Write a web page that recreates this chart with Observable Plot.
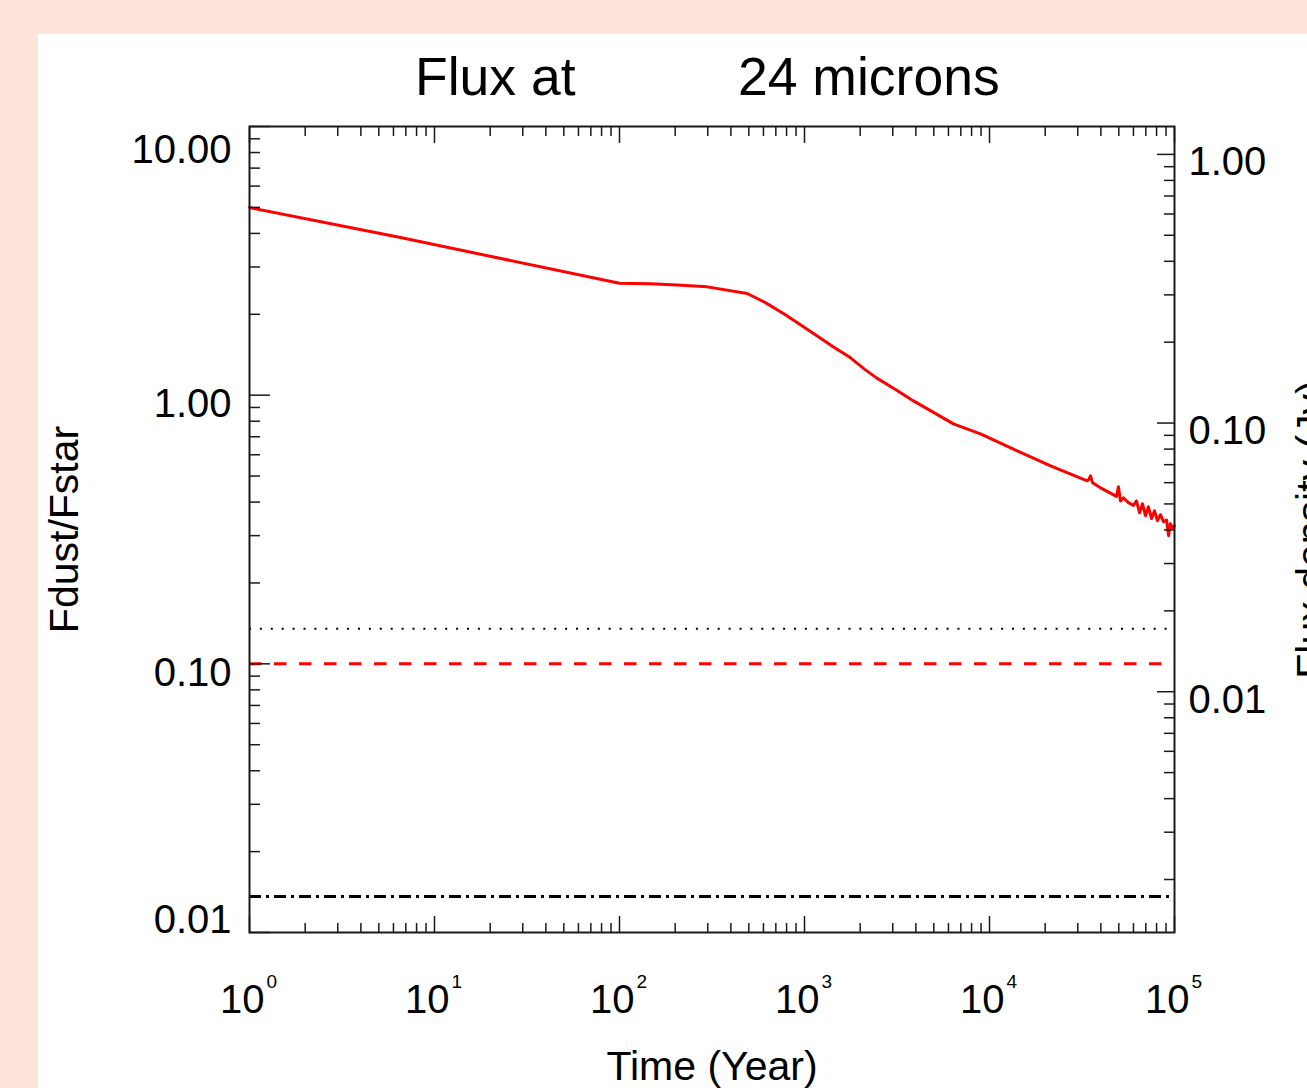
<!DOCTYPE html>
<html>
<head>
<meta charset="utf-8">
<script src="https://cdn.jsdelivr.net/npm/d3@7"></script>
<script src="https://cdn.jsdelivr.net/npm/@observablehq/plot@0.6"></script>
<style>
  html, body { margin: 0; padding: 0; background: #fde5da; width: 1307px; height: 1088px; overflow: hidden; }
  #panel { position: absolute; left: 38px; top: 34px; width: 1269px; height: 1054px; background: #fff; overflow: hidden;
           font-family: "Liberation Sans", Arial, sans-serif; color: #000; }
  #title { position: relative; height: 70px; }
  #title span { position: absolute; top: 16px; font-size: 53.5px; line-height: 53px; white-space: pre; }
  #chart svg { display: block; }
</style>
</head>
<body>
<div id="panel">
  <div id="title"><span style="left:377px">Flux at</span><span style="left:700px">24 microns</span></div>
  <div id="chart"></div>
</div>
<script>
// Dust-to-star flux ratio at 24 microns over time
const timeYears = [1, 6.55, 100, 147, 205, 298, 490, 615, 773, 951, 1172, 1435, 1766, 2110, 2449, 3104, 3884,
  6385, 8939, 14125, 21400,
  33750, 34280, 35160, 36060, 39810, 45080, 48560, 49770, 51050, 52970, 56360, 59980, 62320, 64710, 67180,
  69700, 72300, 75110, 77980, 80910, 83950, 87290, 90570, 92900, 95060, 97500, 100000];
const fluxRatio = [4.99, 3.86, 2.61, 2.60, 2.57, 2.53, 2.39, 2.21, 2.01, 1.83, 1.66, 1.51, 1.38, 1.25, 1.16, 1.05, 0.952,
  0.782, 0.718, 0.620, 0.546,
  0.480, 0.484, 0.501, 0.472, 0.452, 0.432, 0.420, 0.456, 0.404, 0.415, 0.398, 0.389, 0.404, 0.365, 0.394,
  0.356, 0.384, 0.347, 0.371, 0.341, 0.359, 0.338, 0.343, 0.300, 0.332, 0.321, 0.326];

// Reference levels (in Fdust/Fstar)
const dottedLevel = 0.135;
const dashedLevel = 0.1;
const dashDotLevel = 0.0136;

// Stellar flux used for the right-hand (Jy) axis
const starFluxJy = 0.127;

// Tick values
const timeExponents = [0, 1, 2, 3, 4, 5];
const timeMajor = timeExponents.map(e => 10 ** e);
const timeMinor = [1, 10, 100, 1000, 10000].flatMap(d => [2, 3, 4, 5, 6, 7, 8, 9].map(m => m * d));
const ratioMajor = [0.01, 0.1, 1, 10];
const ratioMinor = [0.01, 0.1, 1].flatMap(d => [2, 3, 4, 5, 6, 7, 8, 9].map(m => m * d));
const jyMajor = [0.01, 0.1, 1];
const jyMinor = [0.001, 0.01, 0.1].flatMap(d => [2, 3, 4, 5, 6, 7, 8, 9].map(m => m * d));

const curve = timeYears.map((t, i) => ({t, v: fluxRatio[i]}));
const ink = "#1a1a1a";
const tickStyle = {stroke: ink, strokeWidth: 1.5, tickFormat: () => "", label: null};
const toRatio = jy => jy / starFluxJy;
const labelStyle = {tickSize: 0, tickPadding: 18, fontSize: 40, label: null, tickFormat: d => d.toFixed(2)};

const chart = Plot.plot({
  width: 1269,
  height: 984,
  marginLeft: 211,
  marginRight: 133,
  marginTop: 22,
  marginBottom: 156,
  style: {fontFamily: "Liberation Sans, Arial, sans-serif", background: "white", color: "#000"},
  x: {type: "log", domain: [1, 1e5], axis: null},
  y: {type: "log", domain: [0.01, 10], axis: null},
  marks: [
    // reference levels
    Plot.ruleY([dottedLevel], {stroke: "#000", strokeWidth: 2, strokeDasharray: "2,8.9"}),
    Plot.ruleY([dashedLevel], {stroke: "#ff0000", strokeWidth: 3, strokeDasharray: "12.5,12.5"}),
    Plot.ruleY([dashDotLevel], {stroke: "#000", strokeWidth: 3, strokeDasharray: "12,5,3,5"}),
    // flux ratio curve
    Plot.line(curve, {x: "t", y: "v", stroke: "#ff0000", strokeWidth: 3}),
    // inward ticks on all four sides
    Plot.axisX({anchor: "bottom", ticks: timeMajor, tickSize: -16, ...tickStyle}),
    Plot.axisX({anchor: "bottom", ticks: timeMinor, tickSize: -9, ...tickStyle}),
    Plot.axisX({anchor: "top", ticks: timeMajor, tickSize: -16, ...tickStyle}),
    Plot.axisX({anchor: "top", ticks: timeMinor, tickSize: -9, ...tickStyle}),
    Plot.axisY({anchor: "left", ticks: ratioMajor, tickSize: -21, ...tickStyle}),
    Plot.axisY({anchor: "left", ticks: ratioMinor, tickSize: -11, ...tickStyle}),
    Plot.axisY({anchor: "right", ticks: jyMajor.map(toRatio), tickSize: -18, ...tickStyle}),
    Plot.axisY({anchor: "right", ticks: jyMinor.map(toRatio), tickSize: -11, ...tickStyle}),
    // left tick labels
    Plot.axisY({anchor: "left", ticks: [1, 0.1], dy: 9.5, ...labelStyle}),
    Plot.axisY({anchor: "left", ticks: [10], dy: 23.5, ...labelStyle}),
    Plot.axisY({anchor: "left", ticks: [0.01], dy: -12.5, ...labelStyle}),
    // right tick labels (Jy)
    Plot.text(jyMajor, {y: toRatio, text: d => d.toFixed(2), frameAnchor: "right", textAnchor: "start",
      lineAnchor: "middle", dx: 14, dy: 8, fontSize: 40, fill: "#000"}),
    // bottom tick labels: 10 with superscript exponent
    Plot.text(timeExponents, {x: e => 10 ** e, text: () => "10", frameAnchor: "bottom", lineAnchor: "bottom",
      textAnchor: "end", dx: 15, dy: 80, fontSize: 40, fill: "#000"}),
    Plot.text(timeExponents, {x: e => 10 ** e, text: e => String(e), frameAnchor: "bottom", lineAnchor: "bottom",
      textAnchor: "start", dx: 17, dy: 55, fontSize: 19, fill: "#000"}),
    // axis titles
    Plot.text(["Fdust/Fstar"], {text: d => d, frameAnchor: "left", textAnchor: "middle", lineAnchor: "middle",
      rotate: -90, dx: -185, fontSize: 41, fill: "#000"}),
    Plot.text(["Flux density (Jy)"], {text: d => d, frameAnchor: "right", textAnchor: "middle", lineAnchor: "middle",
      rotate: -90, dx: 137, fontSize: 41, fill: "#000"}),
    Plot.text(["Time (Year)"], {text: d => d, frameAnchor: "bottom", textAnchor: "middle", lineAnchor: "middle",
      dy: 134, fontSize: 41, fill: "#000"}),
    Plot.frame({stroke: ink, strokeWidth: 2})
  ]
});
document.getElementById("chart").appendChild(chart);
</script>
</body>
</html>
